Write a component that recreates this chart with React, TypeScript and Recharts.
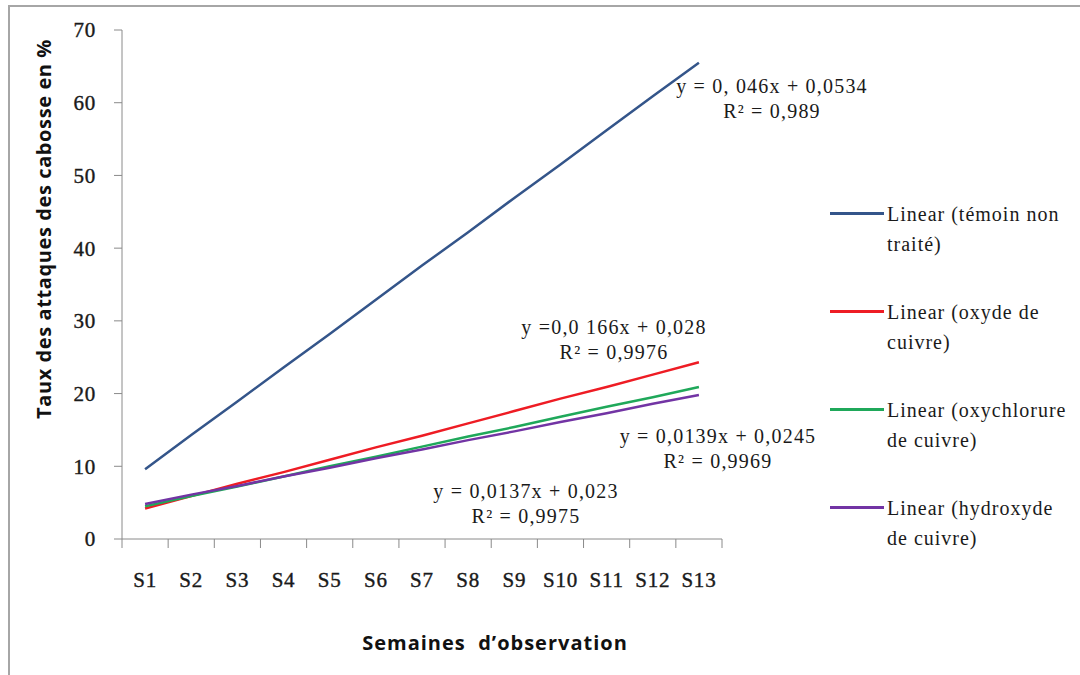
import { LineChart, Line, XAxis, YAxis } from 'recharts';

const weeks = ['S1', 'S2', 'S3', 'S4', 'S5', 'S6', 'S7', 'S8', 'S9', 'S10', 'S11', 'S12', 'S13'];
const temoin = [9.6, 14.3, 18.9, 23.6, 28.2, 32.9, 37.6, 42.2, 46.9, 51.5, 56.2, 60.9, 65.5];
const oxyde = [4.2, 5.9, 7.6, 9.2, 10.9, 12.6, 14.2, 15.9, 17.6, 19.3, 20.9, 22.6, 24.3];
const oxychlorure = [4.5, 5.9, 7.2, 8.6, 10.0, 11.3, 12.7, 14.1, 15.4, 16.8, 18.2, 19.5, 20.9];
const hydroxyde = [4.8, 6.1, 7.3, 8.6, 9.8, 11.1, 12.3, 13.6, 14.8, 16.1, 17.3, 18.6, 19.8];
const yTicks = [0, 10, 20, 30, 40, 50, 60, 70];

const series = [
  { key: 'temoin', name: 'Linear (témoin non traité)', color: '#34558a' },
  { key: 'oxyde', name: 'Linear (oxyde de cuivre)', color: '#ee1c24' },
  { key: 'oxychlorure', name: 'Linear (oxychlorure de cuivre)', color: '#1fa85a' },
  { key: 'hydroxyde', name: 'Linear (hydroxyde de cuivre)', color: '#7234a4' },
];

// trendline labels, centre x / top y
const equations = [
  { lines: ['y = 0, 046x + 0,0534', 'R² = 0,989'], cx: 772, top: 74 },
  { lines: ['y =0,0 166x + 0,028', 'R² = 0,9976'], cx: 614, top: 315 },
  { lines: ['y = 0,0139x + 0,0245', 'R² = 0,9969'], cx: 718, top: 424 },
  { lines: ['y = 0,0137x + 0,023', 'R² = 0,9975'], cx: 526, top: 479 },
];

const data = weeks.map((w, i) => ({
  week: w,
  temoin: temoin[i],
  oxyde: oxyde[i],
  oxychlorure: oxychlorure[i],
  hydroxyde: hydroxyde[i],
}));

const serif = '"Liberation Serif", "DejaVu Serif", serif';
const sans = '"Open Sans", "Liberation Sans", sans-serif';
const axisGray = '#8a8a8a';
const ink = '#1a1a1a';
const PLOT_LEFT = 122;
const PLOT_RIGHT = 722;
const HALF_BAND = (PLOT_RIGHT - PLOT_LEFT) / weeks.length / 2;

function WeekTick(props: any) {
  const { x, y, payload, index } = props;
  const axisY = y - 8;
  return (
    <g>
      <line x1={x - HALF_BAND} y1={axisY} x2={x - HALF_BAND} y2={axisY + 9} stroke={axisGray} />
      {index === weeks.length - 1 && (
        <line x1={x + HALF_BAND} y1={axisY} x2={x + HALF_BAND} y2={axisY + 9} stroke={axisGray} />
      )}
      <text
        x={x}
        y={y + 40}
        textAnchor="middle"
        fontFamily={serif}
        fontSize={21}
        fill={ink}
        stroke={ink}
        strokeWidth={0.4}
        letterSpacing={0.8}
      >
        {payload.value}
      </text>
    </g>
  );
}

export default function App() {
  return (
    <div style={{ position: 'fixed', left: 0, top: 0, width: 1080, height: 675, background: '#fff', overflow: 'hidden' }}>
      <div
        style={{
          position: 'absolute',
          left: 8,
          top: 5,
          width: 1080,
          height: 680,
          borderLeft: '2px solid #a6a6a6',
          borderTop: '2px solid #a6a6a6',
        }}
      />
      <LineChart
        width={1080}
        height={675}
        data={data}
        margin={{ top: 30, right: 1080 - PLOT_RIGHT, left: 0, bottom: 0 }}
        style={{ position: 'absolute', left: 0, top: 0 }}
      >
        <XAxis
          dataKey="week"
          height={136}
          padding={{ left: HALF_BAND, right: HALF_BAND }}
          stroke={axisGray}
          tickLine={false}
          interval={0}
          tick={<WeekTick />}
        />
        <YAxis
          width={PLOT_LEFT}
          domain={[0, 70]}
          ticks={yTicks}
          interval={0}
          stroke={axisGray}
          tickSize={8}
          tick={{ fontFamily: serif, fontSize: 21, fill: ink, stroke: ink, strokeWidth: 0.4, letterSpacing: 0.8, dx: -16 }}
        />
        {series.map((s) => (
          <Line
            key={s.key}
            dataKey={s.key}
            name={s.name}
            stroke={s.color}
            strokeWidth={2.5}
            dot={false}
            type="linear"
            isAnimationActive={false}
          />
        ))}
      </LineChart>

      {/* axis titles */}
      <div
        style={{
          position: 'absolute',
          left: 43,
          top: 229,
          transform: 'translate(-50%, -50%) rotate(-90deg)',
          whiteSpace: 'nowrap',
          fontFamily: sans,
          fontWeight: 700,
          fontSize: 20,
          letterSpacing: 0.6,
          color: '#111',
        }}
      >
        Taux des attaques des cabosse en %
      </div>
      <div
        style={{
          position: 'absolute',
          left: 495,
          top: 642,
          transform: 'translate(-50%, -50%)',
          whiteSpace: 'pre',
          fontFamily: sans,
          fontWeight: 700,
          fontSize: 20,
          letterSpacing: 1,
          color: '#111',
        }}
      >
        {'Semaines  d\u2019observation'}
      </div>

      {/* trend equations */}
      {equations.map((e, i) => (
        <div
          key={i}
          style={{
            position: 'absolute',
            left: e.cx,
            top: e.top,
            transform: 'translateX(-50%)',
            textAlign: 'center',
            whiteSpace: 'nowrap',
            fontFamily: serif,
            fontSize: 20,
            letterSpacing: 1.2,
            lineHeight: '25px',
            color: ink,
          }}
        >
          <div>{e.lines[0]}</div>
          <div>{e.lines[1]}</div>
        </div>
      ))}

      {/* legend */}
      <div style={{ position: 'absolute', left: 830, top: 199 }}>
        {series.map((s) => (
          <div key={s.key} style={{ display: 'flex', alignItems: 'flex-start', height: 98 }}>
            <div style={{ width: 54, height: 3, background: s.color, marginTop: 13, flexShrink: 0 }} />
            <div
              style={{
                width: 192,
                marginLeft: 3,
                fontFamily: serif,
                fontSize: 20,
                lineHeight: '30px',
                color: ink,
                letterSpacing: 1,
              }}
            >
              {s.name}
            </div>
          </div>
        ))}
      </div>
    </div>
  );
}
